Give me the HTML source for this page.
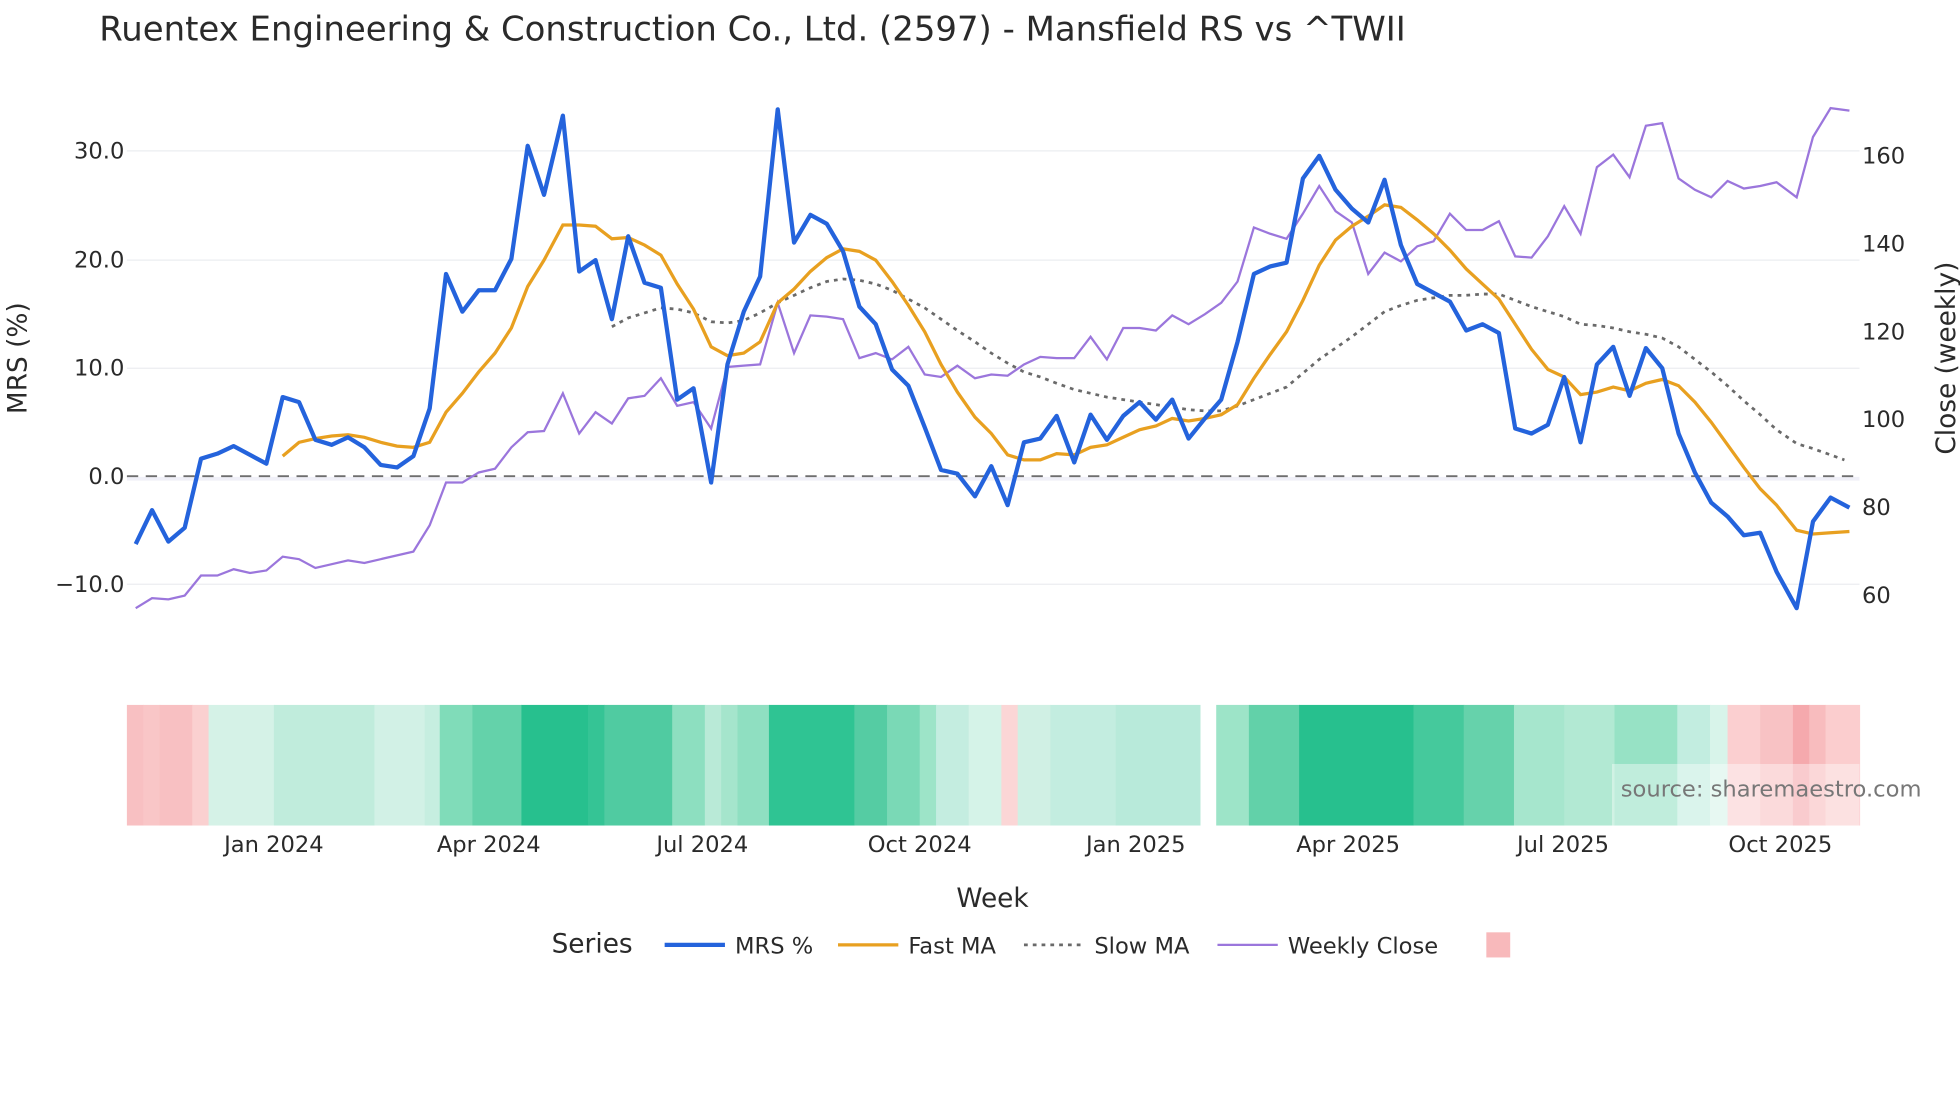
<!DOCTYPE html>
<html><head><meta charset="utf-8"><style>
html,body{margin:0;padding:0;background:#fff;width:1960px;height:1102px;overflow:hidden}
svg{display:block}
text{font-family:"DejaVu Sans","Liberation Sans",sans-serif;fill:#2a2a2a}
</style></head><body>
<svg id="s" width="1960" height="1102" viewBox="0 0 1560 877" xmlns="http://www.w3.org/2000/svg">
<text x="79" y="32" font-size="27" fill="#333">Ruentex Engineering &amp; Construction Co., Ltd. (2597) - Mansfield RS vs ^TWII</text>
<g stroke="#ebedf0" stroke-width="1">
<line x1="101" x2="1480" y1="120" y2="120"/><line x1="101" x2="1480" y1="207" y2="207"/>
<line x1="101" x2="1480" y1="293" y2="293"/><line x1="101" x2="1480" y1="465" y2="465"/>
</g>
<line x1="101" x2="1480" y1="381" y2="381" stroke="#f0f0f8" stroke-width="3"/>
<line x1="101" x2="1480" y1="379" y2="379" stroke="#6e6e6e" stroke-width="1.5" stroke-dasharray="9,6"/>
<g font-size="18" text-anchor="end">
<text x="99" y="126">30.0</text><text x="99" y="213">20.0</text><text x="99" y="299">10.0</text><text x="99" y="385">0.0</text><text x="99" y="471">−10.0</text>
</g>
<g font-size="18">
<text x="1482" y="130">160</text><text x="1482" y="200">140</text><text x="1482" y="270">120</text><text x="1482" y="340">100</text><text x="1482" y="410">80</text><text x="1482" y="480">60</text>
</g>
<text transform="translate(21,285) rotate(-90)" font-size="21" text-anchor="middle">MRS (%)</text>
<text transform="translate(1556,285) rotate(-90)" font-size="21" text-anchor="middle">Close (weekly)</text>
<polyline fill="none" stroke="#9b76dc" stroke-width="1.8" points="108,484 121,476 134,477 147,474 160,458 173,458 186,453 199,456 212,454 225,443 238,445 251,452 264,449 277,446 290,448 303,445 316,442 329,439 342,418 355,384 368,384 381,376 394,373 407,356 420,344 433,343 448,313 461,345 474,328 487,337 500,317 513,315 526,301 539,323 552,320 566,341 579,292 592,291 605,290 619,241 632,281 645,251 658,252 671,254 684,285 697,281 710,286 723,276 736,298 749,300 762,291 776,301 789,298 802,299 815,290 828,284 841,285 855,285 868,268 881,286 894,261 907,261 920,263 933,251 946,258 959,250 972,241 985,224 998,181 1011,186 1024,190 1037,170 1050,148 1063,168 1076,177 1089,218 1102,201 1115,208 1128,196 1141,192 1154,170 1167,183 1180,183 1193,176 1206,204 1219,205 1232,188 1245,164 1258,186 1271,133 1284,123 1297,141 1310,100 1323,98 1336,142 1349,151 1362,157 1375,144 1388,150 1401,148 1414,145 1430,157 1443,109 1457,86 1472,88"/>
<polyline fill="none" stroke="#6a6a6a" stroke-width="2.2" stroke-dasharray="3,4" points="487,260 500,253 513,249 526,245 539,246 552,249 566,256 579,257 592,255 605,249 619,241 632,235 645,229 658,224 671,222 684,223 697,226 710,231 723,238 736,245 749,254 762,263 776,272 789,281 802,289 815,296 828,300 841,305 855,310 868,313 881,316 894,318 907,320 920,322 933,324 946,326 959,327 972,327 985,323 998,318 1011,313 1024,308 1037,297 1050,286 1063,277 1076,268 1089,258 1102,248 1115,243 1128,239 1141,237 1154,235 1167,235 1180,234 1193,234 1206,239 1219,244 1232,248 1245,252 1258,258 1271,259 1284,261 1297,264 1310,266 1323,269 1336,276 1349,286 1362,296 1375,307 1388,319 1401,330 1414,342 1430,353 1443,357 1457,362 1468,366"/>
<polyline fill="none" stroke="#e8a020" stroke-width="2.6" points="225,363 238,352 251,349 264,347 277,346 290,348 303,352 316,355 329,356 342,352 355,328 368,313 381,296 394,281 407,261 420,228 433,207 448,179 461,179 474,180 487,190 500,189 513,195 526,203 539,226 552,246 566,276 579,283 592,281 605,272 619,241 632,230 645,216 658,205 671,198 684,200 697,207 710,224 723,243 736,264 749,290 762,312 776,332 789,345 802,362 815,366 828,366 841,361 855,362 868,356 881,354 894,348 907,342 920,339 933,333 946,335 959,333 972,330 985,322 998,301 1011,282 1024,264 1037,239 1050,211 1063,191 1076,180 1089,172 1102,163 1115,165 1128,175 1141,186 1154,199 1167,214 1180,226 1193,238 1206,258 1219,278 1232,294 1245,300 1258,314 1271,312 1284,308 1297,311 1310,305 1323,302 1336,307 1349,320 1362,336 1375,354 1388,372 1401,389 1414,402 1430,422 1443,425 1457,424 1472,423"/>
<polyline fill="none" stroke="#2463dc" stroke-width="3.4" stroke-linejoin="round" points="108,433 121,406 134,431 147,420 160,365 173,361 186,355 199,362 212,369 225,316 238,320 251,350 264,354 277,348 290,356 303,370 316,372 329,363 342,325 355,218 368,248 381,231 394,231 407,206 420,116 433,155 448,92 461,216 474,207 487,254 500,188 513,225 526,229 539,318 552,309 566,384 579,290 592,248 605,220 619,87 632,193 645,171 658,178 671,200 684,244 697,258 710,294 723,307 736,340 749,374 762,377 776,395 789,371 802,402 815,352 828,349 841,331 855,368 868,330 881,350 894,331 907,320 920,334 933,318 946,349 959,333 972,318 985,272 998,218 1011,212 1024,209 1037,142 1050,124 1063,151 1076,166 1089,177 1102,143 1115,195 1128,226 1141,233 1154,240 1167,263 1180,258 1193,265 1206,341 1219,345 1232,338 1245,300 1258,352 1271,290 1284,276 1297,315 1310,277 1323,293 1336,345 1349,376 1362,400 1375,411 1388,426 1401,424 1414,455 1430,484 1443,415 1457,396 1472,404"/>
<g id="hm"></g>
<rect x="1283" y="608" width="197" height="49" fill="#fff" fill-opacity="0.4"/>
<text x="1290" y="634" font-size="18" fill="#777" style="fill:#777">source: sharemaestro.com</text>
<g font-size="18" text-anchor="middle">
<text x="218" y="678">Jan 2024</text><text x="389" y="678">Apr 2024</text><text x="559" y="678">Jul 2024</text><text x="732" y="678">Oct 2024</text><text x="904" y="678">Jan 2025</text><text x="1073" y="678">Apr 2025</text><text x="1244" y="678">Jul 2025</text><text x="1417" y="678">Oct 2025</text>
</g>
<text x="790" y="722" font-size="21" text-anchor="middle">Week</text>
<text x="439" y="758" font-size="21">Series</text>
<line x1="529" x2="577" y1="752" y2="752" stroke="#2463dc" stroke-width="3.4"/>
<text x="585" y="759" font-size="18">MRS %</text>
<line x1="667" x2="715" y1="752" y2="752" stroke="#e8a020" stroke-width="2.6"/>
<text x="723" y="759" font-size="18">Fast MA</text>
<line x1="815" x2="860" y1="752" y2="752" stroke="#6a6a6a" stroke-width="2.2" stroke-dasharray="3,4"/>
<text x="871" y="759" font-size="18">Slow MA</text>
<line x1="969" x2="1017" y1="752" y2="752" stroke="#9b76dc" stroke-width="1.8"/>
<text x="1025" y="759" font-size="18">Weekly Close</text>
<rect x="1183" y="742" width="19" height="20" fill="#f8b9bb"/>
</svg>
<script>
var segs=[[101,114,"#f8c0c2"],[114,127,"#f9c6c7"],[127,153,"#f8c0c2"],[153,166,"#fad0d0"],[166,218,"#d5f2e7"],[218,298,"#c0ecdc"],[298,338,"#d2f1e6"],[338,350,"#c6eee0"],[350,376,"#80dcb9"],[376,415,"#64d2aa"],[415,468,"#27c08e"],[468,481,"#35c495"],[481,535,"#50cba1"],[535,561,"#8ddfc0"],[561,574,"#b9ead7"],[574,587,"#a5e5cc"],[587,612,"#8fdfc1"],[612,680,"#2fc493"],[680,706,"#55cca3"],[706,732,"#7ad9b6"],[732,745,"#9de4c8"],[745,771,"#c4ede0"],[771,797,"#d5f3e8"],[797,810,"#fbd6d6"],[810,836,"#d0f0e4"],[836,888,"#c3ede0"],[888,955,"#b8eada"],[968,994,"#9de4c8"],[994,1034,"#62d1a9"],[1034,1125,"#27c08e"],[1125,1165,"#45c99c"],[1165,1205,"#66d2ab"],[1205,1245,"#a6e6cd"],[1245,1285,"#b2e9d3"],[1285,1335,"#97e2c5"],[1335,1361,"#c2ede0"],[1361,1375,"#d8f4ea"],[1375,1401,"#fbcfd0"],[1401,1427,"#f8c2c4"],[1427,1440,"#f5a9ad"],[1440,1453,"#f8bcbe"],[1453,1480,"#fbcdce"]];
var g=document.getElementById("hm"),h="";
segs.forEach(function(s){h+='<rect x="'+s[0]+'" y="561" width="'+(s[1]-s[0]+0.5)+'" height="96" fill="'+s[2]+'"/>';});
g.innerHTML=h;
</script>
</body></html>
